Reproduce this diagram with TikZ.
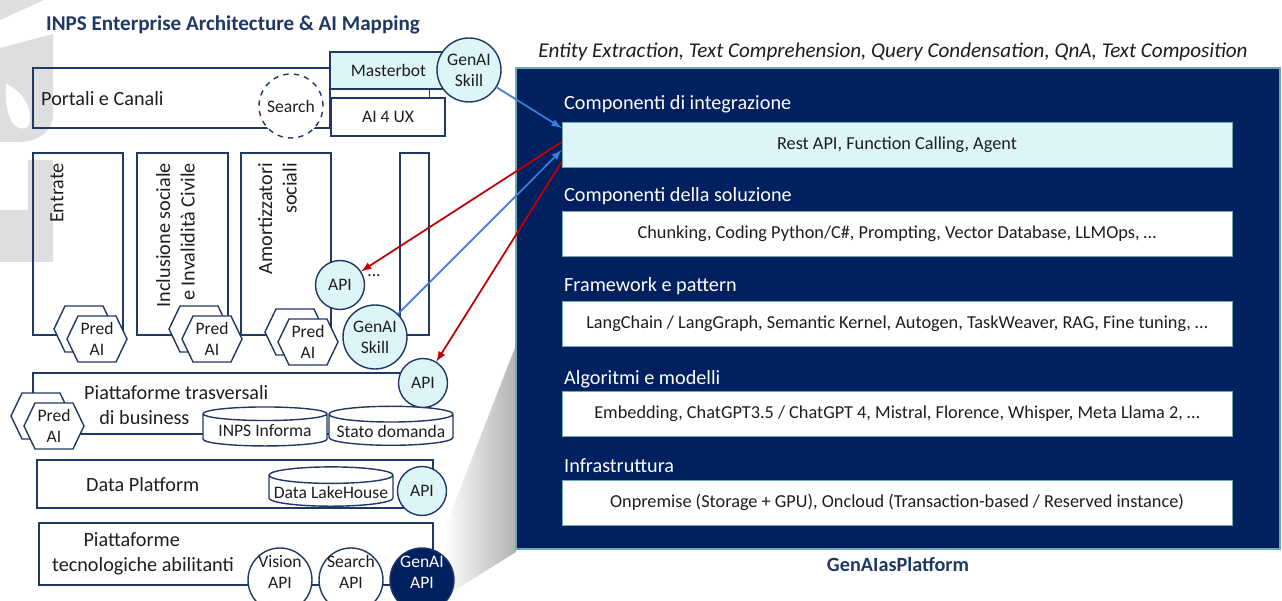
\documentclass[tikz,border=0pt]{standalone}
\usepackage{fontspec}
\setmainfont{Carlito}
\usetikzlibrary{calc,shapes.geometric}
\definecolor{inpsnavy}{RGB}{31,56,100}
\definecolor{panelblue}{RGB}{0,32,96}
\definecolor{panelrim}{RGB}{110,170,175}
\definecolor{paleaqua}{RGB}{222,245,248}
\definecolor{arrred}{RGB}{192,0,0}
\definecolor{arrblue}{RGB}{58,125,221}
\definecolor{inktext}{RGB}{30,30,30}
\newcommand\hexa[2]{\draw[box, fill=white] (#1-30,#2) -- (#1-19,#2-23) -- (#1+19,#2-23) -- (#1+30,#2) -- (#1+19,#2+23) -- (#1-19,#2+23) -- cycle;}
\newcommand\predai[3]{\hexa{#2-13}{#3-10}\hexa{#2}{#3}\node[sml] (#1) at (#2,#3) {Pred\\AI};}
\tikzset{
  box/.style={draw=inpsnavy, line width=0.8pt},
  lbl/.style={text=inktext, font=\fontsize{11.5}{14}\selectfont},
  sml/.style={text=inktext, align=center, font=\fontsize{10}{12}\selectfont},
  bubble/.style={sml, circle, box, fill=paleaqua, minimum size=0.98cm, inner sep=0pt},
  bigbubble/.style={bubble, minimum size=1.28cm},
  drum/.style={sml, cylinder, shape border rotate=90, box, fill=white, aspect=0.14, minimum width=2.48cm, minimum height=0.78cm, inner sep=1pt},
  rowbox/.style={draw=panelrim, fill=white, minimum width=13.4cm, minimum height=0.9cm, text=inktext, font=\fontsize{10.4}{12}\selectfont},
  rowlbl/.style={anchor=west, text=white, font=\fontsize{11.5}{13}\selectfont},
  redarr/.style={-latex, arrred, line width=1pt},
  bluearr/.style={-latex, arrblue, line width=1pt},
}
\begin{document}
\begin{tikzpicture}[x=0.02cm, y=-0.02cm]
  \useasboundingbox (0,0) rectangle (1282,601);
  %%%%% START %%%%%

  % watermark
  \fill[black!13] (0,0) -- (44,0) -- (0,20) -- cycle;
  \fill[black!13] (0,48) -- (53,34) -- (53,118) .. controls (50,135) and (35,142) .. (18,142) -- (0,142) -- cycle;
  \fill[white] (6,84) .. controls (20,90) and (32,105) .. (30,122) .. controls (28,132) and (14,130) .. (10,118) .. controls (6,108) and (5,95) .. (6,84) -- cycle;
  \fill[black!13] (0,210) -- (28,210) -- (28,160) -- (53,160) -- (53,262) -- (0,262) -- cycle;

  % zoom wedge
  \shade[left color=white, right color=black!30] (443,533) -- (516,345) -- (516,552) -- (452,592) -- cycle;

  \node[font=\fontsize{12}{14}\selectfont\bfseries, text=inpsnavy] (title) at (233,25) {INPS Enterprise Architecture \& AI Mapping};

  % portali e canali
  \draw[box] (33,68) rectangle (330,128);
  \node[lbl, anchor=west] (portali) at (35,99) {Portali e Canali};
  \node[sml, box, fill=paleaqua, minimum width=2.34cm, minimum height=0.74cm] (masterbot) at (388.5,70.5) {Masterbot};
  \node[sml, box, fill=white, minimum width=2.28cm, minimum height=0.76cm] (ai4ux) at (388,117) {AI 4 UX};
  \draw[box] ([xshift=-0.32cm]ai4ux.north east) -- ([xshift=-0.32cm]ai4ux.north east |- masterbot.south);
  \node[bubble, minimum size=1.28cm, fill=white, dashed] (search) at (291,106) {Search};
  \node[bigbubble] (skilltop) at (469,70) {GenAI\\Skill};

  % verticali
  \draw[box] (33,153) rectangle (123,335);
  \draw[box] (137,153) rectangle (228,335);
  \draw[box] (241,153) rectangle (331,335);
  \draw[box] (400,153) rectangle (429,335);
  \node[lbl, rotate=90, anchor=east] (entrate) at (57,157) {Entrate};
  \node[lbl, rotate=90, anchor=east, align=right] (inclusione) at (175.5,157) {Inclusione sociale\\e Invalidità Civile};
  \node[lbl, rotate=90, anchor=east, align=right] (ammortizzatori) at (277.5,157) {Amortizzatori\\sociali};
  \predai{predentrate}{97}{339}
  \predai{predinclusione}{212}{339}
  \predai{predammort}{308}{342}
  \node[sml] (dots) at (374,276) {...};
  \node[bubble] (apiverticali) at (340,285) {API};
  \node[bigbubble] (skillverticali) at (375,337) {GenAI\\Skill};

  % piattaforme trasversali
  \draw[box] (33,373) rectangle (430,434);
  \node[lbl, anchor=west, align=left] (trasversali) at (78,405) {Piattaforme trasversali\\\hspace*{0.75em}di business};
  \predai{predtrasversali}{54}{426}
  \node[drum] (informa) at (265,431) {\raisebox{-5pt}{INPS Informa}};
  \node[drum] (statodomanda) at (391,431) {\raisebox{-5pt}{Stato domanda}};
  \node[bubble] (apitrasversali) at (423,383) {API};

  % data platform
  \draw[box] (37,460) rectangle (433,508);
  \node[lbl, anchor=west] (dataplatform) at (80,485) {Data Platform};
  \node[drum] (lakehouse) at (331,492) {\raisebox{-5pt}{Data LakeHouse}};
  \node[bubble] (apidata) at (422,491) {API};

  % piattaforme abilitanti
  \draw[box] (39,523) rectangle (433,585);
  \node[lbl, anchor=west, align=left] (abilitanti) at (46,554) {\hspace*{1.55em}Piattaforme\\tecnologiche abilitanti};
  \node[bigbubble, fill=white] (vision) at (280,580) {};
  \node[bigbubble, fill=white] (searchapi) at (351,580) {};
  \node[bigbubble, fill=panelblue] (genaiapi) at (422,580) {};
  \node[sml] (visiontxt) at (vision) [yshift=0.16cm] {Vision\\API};
  \node[sml] (searchapitxt) at (searchapi) [yshift=0.16cm] {Search\\API};
  \node[sml, text=white] (genaiapitxt) at (genaiapi) [yshift=0.16cm] {GenAI\\API};

  % GenAI as Platform
  \node[font=\fontsize{12}{14}\selectfont\itshape, text=inktext] (tasks) at (893,52) {Entity Extraction, Text Comprehension, Query Condensation, QnA, Text Composition};
  \draw[fill=panelblue, draw=panelrim, line width=0.8pt] (516,68) rectangle (1280,549);
  \node[rowlbl] (integrazionelbl) at (558,104) {Componenti di integrazione};
  \node[rowbox, fill=paleaqua] (restapi) at (897,144.5) {Rest API, Function Calling, Agent};
  \node[rowlbl] (soluzionelbl) at (558,196) {Componenti della soluzione};
  \node[rowbox] (soluzione) at (897,234) {Chunking, Coding Python/C\#, Prompting, Vector Database, LLMOps, \dots};
  \node[rowlbl] (frameworklbl) at (558,286) {Framework e pattern};
  \node[rowbox] (framework) at (897,323.5) {LangChain / LangGraph, Semantic Kernel, Autogen, TaskWeaver, RAG, Fine tuning, \dots};
  \node[rowlbl] (algoritmilbl) at (558,379) {Algoritmi e modelli};
  \node[rowbox] (algoritmi) at (897,413.5) {Embedding, ChatGPT3.5 / ChatGPT 4, Mistral, Florence, Whisper, Meta Llama 2, \dots};
  \node[rowlbl] (infralbl) at (558,466) {Infrastruttura};
  \node[rowbox] (infra) at (897,502.5) {Onpremise (Storage + GPU), Oncloud (Transaction-based / Reserved instance)};
  \node[font=\fontsize{11.5}{13}\selectfont\bfseries, text=inpsnavy] (platform) at (898,564) {GenAIasPlatform};

  % collegamenti
  \draw[bluearr] (skilltop) -- ([yshift=0.33cm]restapi.west);
  \draw[redarr] ([yshift=0.05cm]restapi.west) -- (apiverticali);
  \draw[bluearr] (skillverticali) -- ([yshift=-0.11cm]restapi.west);
  \draw[redarr] ([yshift=-0.35cm]restapi.west) -- (apitrasversali);

  %%%%% END %%%%%
\end{tikzpicture}
\end{document}
